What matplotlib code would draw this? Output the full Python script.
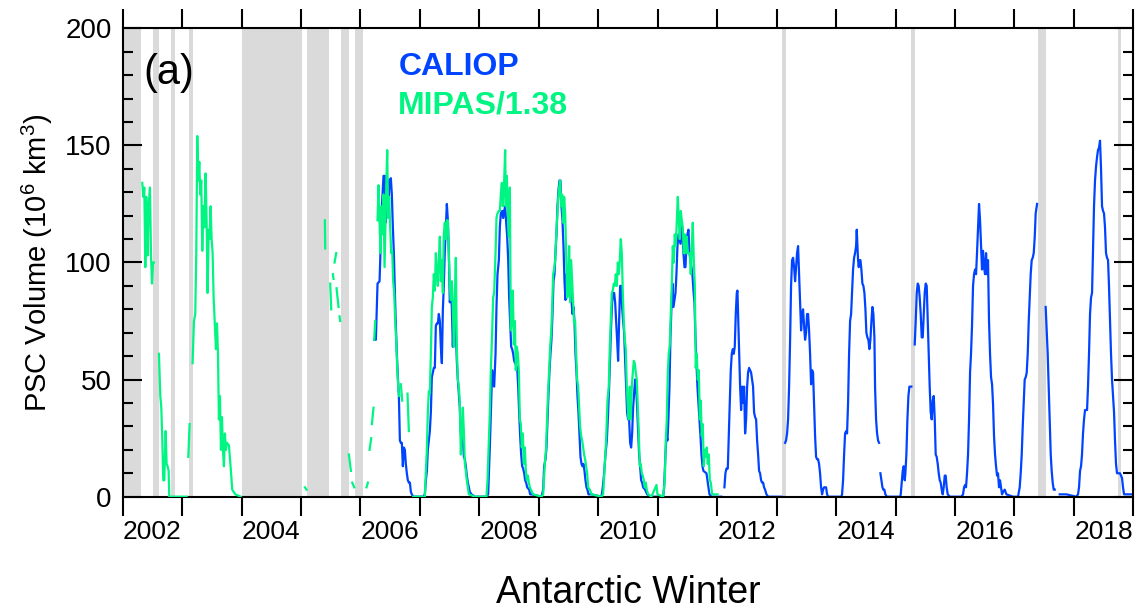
import numpy as np
import matplotlib
matplotlib.use("Agg")
import matplotlib.pyplot as plt
from matplotlib.ticker import FixedLocator, FixedFormatter, NullFormatter, MultipleLocator

plt.rcParams['font.family'] = ['Liberation Sans', 'DejaVu Sans']
plt.rcParams['mathtext.default'] = 'regular'

NAN = np.nan

# ---------------- data (decimal year, PSC volume in 10^6 km^3) ----------------
# periods without data (grey shading): start, end
gap_start = [2002.000, 2002.516, 2002.812, 2003.115, 2004.000, 2005.104, 2005.670, 2005.906,
             2013.098, 2015.267, 2017.403, 2018.743]
gap_end = [2002.302, 2002.616, 2002.879, 2003.188, 2005.020, 2005.469, 2005.811, 2006.046,
           2013.165, 2015.334, 2017.538, 2018.799]

label_years = [2002, 2004, 2006, 2008, 2010, 2012, 2014, 2016, 2018]

# CALIOP
cal06 = [(2006.231,67),(2006.259,67),(2006.287,91),(2006.321,92),(2006.337,105),(2006.354,121),(2006.371,129),
         (2006.388,137),(2006.405,137),(2006.422,117),(2006.438,137),(2006.455,135),(2006.472,124),(2006.489,135),
         (2006.511,136),(2006.528,129),(2006.545,115),(2006.562,104),(2006.579,87),(2006.595,73),(2006.612,61),
         (2006.629,51),(2006.646,43),(2006.663,24),(2006.679,23),(2006.696,23),(2006.713,13),(2006.730,21),
         (2006.747,20),(2006.763,14),(2006.780,10),(2006.797,7),(2006.814,6),(2006.831,6),(2006.848,2),
         (2006.864,1),(2006.887,0)]
cal07 = [(2007.055,0),(2007.083,1),(2007.100,7),(2007.117,11),(2007.133,20),(2007.150,24),(2007.167,28),
         (2007.184,36),(2007.201,51),(2007.217,53),(2007.234,55),(2007.251,55),(2007.268,73),(2007.285,74),
         (2007.302,74),(2007.318,78),(2007.335,75),(2007.352,64),(2007.369,57),(2007.386,80),(2007.402,90),
         (2007.419,105),(2007.436,115),(2007.453,125),(2007.470,118),(2007.486,104),(2007.503,83),(2007.520,87),
         (2007.537,81),(2007.554,64),(2007.571,80),(2007.587,75),(2007.604,71),(2007.621,58),(2007.638,50),
         (2007.655,44),(2007.671,38),(2007.688,27),(2007.705,24),(2007.722,26),(2007.739,17),(2007.756,16),
         (2007.772,13),(2007.789,9),(2007.806,6),(2007.823,4),(2007.840,2),(2007.868,1),(2007.924,0)]
cal08 = [(2008.120,0),(2008.148,1),(2008.176,21),(2008.193,36),(2008.215,54),(2008.232,48),(2008.249,47),
         (2008.272,61),(2008.288,81),(2008.305,95),(2008.328,101),(2008.344,115),(2008.361,121),(2008.384,122),
         (2008.400,119),(2008.417,122),(2008.434,124),(2008.451,117),(2008.468,111),(2008.485,101),(2008.501,85),
         (2008.518,75),(2008.535,64),(2008.552,63),(2008.569,61),(2008.585,58),(2008.602,57),(2008.636,55),
         (2008.653,47),(2008.669,36),(2008.686,26),(2008.703,18),(2008.720,13),(2008.737,12),(2008.754,10),
         (2008.770,7),(2008.787,6),(2008.804,4),(2008.838,3),(2008.854,1),(2008.877,1),(2009.045,0)]
cal09 = [(2009.073,3),(2009.090,13),(2009.112,16),(2009.129,21),(2009.146,33),(2009.163,44),(2009.180,54),
         (2009.196,61),(2009.213,67),(2009.230,78),(2009.247,92),(2009.264,95),(2009.280,104),(2009.297,112),
         (2009.314,124),(2009.331,131),(2009.348,135),(2009.364,135),(2009.381,124),(2009.398,118),(2009.415,107),
         (2009.432,92),(2009.449,84),(2009.465,95),(2009.482,87),(2009.499,90),(2009.516,95),(2009.533,90),
         (2009.549,84),(2009.566,78),(2009.583,81),(2009.600,75),(2009.617,61),(2009.634,53),(2009.650,43),
         (2009.667,36),(2009.684,26),(2009.701,17),(2009.718,14),(2009.734,13),(2009.751,14),(2009.768,11),
         (2009.785,7),(2009.802,4),(2009.818,3),(2009.835,1),(2009.886,1),(2010.054,0)]
cal10 = [(2010.076,4),(2010.099,10),(2010.121,18),(2010.144,24),(2010.166,36),(2010.183,47),(2010.200,61),
         (2010.216,73),(2010.233,83),(2010.250,87),(2010.267,87),(2010.284,83),(2010.301,75),(2010.317,67),
         (2010.334,58),(2010.351,75),(2010.368,90),(2010.385,90),(2010.401,81),(2010.418,75),(2010.435,70),
         (2010.452,58),(2010.469,47),(2010.485,36),(2010.502,33),(2010.519,33),(2010.536,23),(2010.553,21),
         (2010.570,27),(2010.586,38),(2010.603,44),(2010.620,50),(2010.637,47),(2010.654,38),(2010.670,28),
         (2010.687,18),(2010.704,13),(2010.721,7),(2010.738,6),(2010.755,4),(2010.788,3),(2010.822,1),
         (2010.895,0),(2010.951,0)]
cal11 = [(2011.091,0),(2011.108,4),(2011.130,18),(2011.147,26),(2011.164,24),(2011.181,34),(2011.198,47),
         (2011.214,68),(2011.231,81),(2011.248,91),(2011.265,81),(2011.282,84),(2011.299,87),(2011.315,95),
         (2011.332,107),(2011.349,112),(2011.366,110),(2011.383,108),(2011.399,117),(2011.416,112),(2011.433,104),
         (2011.450,98),(2011.467,98),(2011.483,107),(2011.500,112),(2011.517,114),(2011.534,104),(2011.551,101),
         (2011.568,98),(2011.584,95),(2011.601,88),(2011.618,83),(2011.635,68),(2011.652,57),(2011.668,47),
         (2011.685,40),(2011.702,33),(2011.719,26),(2011.736,18),(2011.753,13),(2011.769,11),(2011.820,10),
         (2011.837,7),(2011.853,4),(2011.870,1),(2011.904,0),(2012.072,0),(NAN,NAN)]
cal12 = [(2012.122,4),(2012.139,10),(2012.156,12),(2012.179,12),(2012.195,26),(2012.212,40),(2012.229,54),
         (2012.246,61),(2012.263,63),(2012.279,61),(2012.296,64),(2012.313,78),(2012.330,87),(2012.341,88),
         (2012.352,78),(2012.369,61),(2012.386,47),(2012.403,37),(2012.420,47),(2012.436,40),(2012.453,47),
         (2012.470,27),(2012.487,33),(2012.504,47),(2012.520,53),(2012.537,55),(2012.554,54),(2012.571,53),
         (2012.588,50),(2012.604,47),(2012.621,36),(2012.638,34),(2012.655,33),(2012.672,24),(2012.689,18),
         (2012.705,11),(2012.722,10),(2012.739,7),(2012.756,6),(2012.773,6),(2012.789,4),(2012.806,3),
         (2012.829,1),(2012.857,0),(2013.081,0),(NAN,NAN)]
cal13 = [(2013.143,23),(2013.159,24),(2013.176,27),(2013.193,33),(2013.210,47),(2013.227,67),(2013.243,90),
         (2013.260,101),(2013.277,102),(2013.294,98),(2013.311,92),(2013.328,98),(2013.344,104),(2013.361,107),
         (2013.378,95),(2013.395,84),(2013.412,71),(2013.428,78),(2013.445,80),(2013.462,73),(2013.479,67),
         (2013.496,70),(2013.512,78),(2013.529,78),(2013.546,71),(2013.563,61),(2013.580,48),(2013.597,54),
         (2013.613,53),(2013.630,40),(2013.647,26),(2013.664,17),(2013.681,16),(2013.697,16),(2013.714,14),
         (2013.731,10),(2013.748,4),(2013.765,1),(2013.782,3),(2013.798,4),(2013.815,4),(2013.832,4),
         (2013.849,1),(2013.866,0),(2014.090,0)]
cal14 = [(2014.101,1),(2014.118,7),(2014.135,18),(2014.152,27),(2014.169,28),(2014.185,27),(2014.202,40),
         (2014.219,61),(2014.236,75),(2014.253,78),(2014.269,87),(2014.286,97),(2014.303,102),(2014.320,104),
         (2014.337,107),(2014.348,114),(2014.359,107),(2014.370,101),(2014.382,98),(2014.393,101),(2014.410,101),
         (2014.426,97),(2014.443,91),(2014.460,90),(2014.477,87),(2014.494,80),(2014.510,70),(2014.527,68),
         (2014.544,67),(2014.561,63),(2014.578,67),(2014.595,75),(2014.611,81),(2014.628,78),(2014.645,68),
         (2014.656,47),(2014.673,33),(2014.690,27),(2014.707,24),(2014.723,23),(NAN,NAN),(2014.746,10),
         (2014.763,7),(2014.780,4),(2014.796,3),(2014.813,3),(2014.830,1),(2014.852,0),(2015.080,0)]
cal15 = [(2015.088,1),(2015.105,6),(2015.121,11),(2015.138,13),(2015.155,7),(2015.166,10),(2015.183,18),
         (2015.200,33),(2015.217,43),(2015.234,47),(2015.267,47),(NAN,NAN),(2015.323,65),(2015.340,75),
         (2015.357,87),(2015.374,91),(2015.390,90),(2015.407,85),(2015.424,78),(2015.441,68),(2015.458,68),
         (2015.475,78),(2015.491,87),(2015.508,91),(2015.525,90),(2015.542,75),(2015.559,61),(2015.575,47),
         (2015.592,36),(2015.609,33),(2015.626,41),(2015.643,43),(2015.660,33),(2015.676,18),(2015.693,17),
         (2015.710,14),(2015.727,10),(2015.744,7),(2015.760,6),(2015.777,3),(2015.794,1),(2015.811,4),
         (2015.828,9),(2015.844,9),(2015.861,4),(2015.878,1),(2015.912,0),(2016.108,0)]
cal16 = [(2016.136,1),(2016.153,4),(2016.170,5),(2016.186,4),(2016.203,10),(2016.220,18),(2016.237,33),
         (2016.254,53),(2016.270,61),(2016.287,73),(2016.304,90),(2016.321,95),(2016.338,97),(2016.355,95),
         (2016.371,104),(2016.388,115),(2016.405,125),(2016.422,118),(2016.439,107),(2016.455,97),(2016.472,105),
         (2016.489,98),(2016.506,95),(2016.523,104),(2016.539,95),(2016.556,101),(2016.573,75),(2016.590,61),
         (2016.607,51),(2016.624,48),(2016.640,40),(2016.657,26),(2016.674,18),(2016.691,13),(2016.708,9),
         (2016.724,10),(2016.741,4),(2016.758,7),(2016.775,4),(2016.792,1),(2016.809,2),(2016.837,3),
         (2016.865,1),(2016.977,0),(2017.061,0)]
cal17 = [(2017.089,4),(2017.106,10),(2017.123,18),(2017.140,30),(2017.157,40),(2017.173,50),(2017.190,51),
         (2017.207,53),(2017.224,61),(2017.241,75),(2017.257,85),(2017.274,95),(2017.291,101),(2017.308,102),
         (2017.325,104),(2017.342,111),(2017.358,121),(2017.381,125),(NAN,NAN),(2017.526,81),(2017.543,71),
         (2017.560,61),(2017.577,47),(2017.594,33),(2017.611,18),(2017.627,11),(2017.644,6),(2017.661,3),
         (2017.678,3),(NAN,NAN),(2017.762,1),(2017.818,1),(2017.846,1),(2017.874,1),(2018.042,0)]
cal18 = [(2018.070,1),(2018.087,4),(2018.104,11),(2018.121,13),(2018.137,18),(2018.154,27),(2018.171,33),
         (2018.188,37),(2018.222,37),(2018.238,47),(2018.255,61),(2018.272,78),(2018.289,85),(2018.306,87),
         (2018.322,104),(2018.339,124),(2018.356,135),(2018.373,141),(2018.390,145),(2018.406,148),(2018.423,149),
         (2018.440,152),(2018.457,140),(2018.474,124),(2018.491,122),(2018.507,121),(2018.524,115),(2018.541,104),
         (2018.558,102),(2018.575,101),(2018.591,90),(2018.608,75),(2018.625,61),(2018.642,50),(2018.659,43),
         (2018.676,36),(2018.692,24),(2018.709,14),(2018.726,10),(2018.776,10),(2018.793,9),(2018.810,8),
         (2018.827,4),(2018.844,1),(2018.911,1),(2018.939,1),(2018.995,1)]

# MIPAS (scaled by 1/1.38)
mip02 = [(2002.330,134),(2002.347,128),(2002.364,132),(2002.381,98),(2002.397,128),(2002.420,103),(2002.437,124),
         (2002.459,132),(2002.476,104),(2002.493,91),(2002.510,100),(2002.526,100),(NAN,NAN),(2002.610,61),
         (2002.633,43),(2002.650,38),(2002.667,24),(2002.683,7),(2002.700,7),(2002.723,28),(2002.739,14),
         (2002.756,13),(2002.773,11),(2002.784,0),(2003.076,0),(NAN,NAN),(2003.104,17),(2003.126,31),(NAN,NAN)]
mip03 = [(2003.176,57),(2003.199,75),(2003.221,78),(2003.238,104),(2003.255,154),(2003.272,135),(2003.289,143),
         (2003.305,129),(2003.322,135),(2003.339,105),(2003.356,124),(2003.373,115),(2003.395,138),(2003.412,118),
         (2003.429,87),(2003.446,114),(2003.462,110),(2003.479,124),(2003.496,110),(2003.513,104),(2003.530,85),
         (2003.552,73),(2003.569,63),(2003.586,74),(2003.603,61),(2003.619,33),(2003.636,43),(2003.653,20),
         (2003.670,34),(2003.687,20),(2003.703,13),(2003.720,27),(2003.737,20),(2003.754,23),(2003.787,22),
         (2003.821,11),(2003.843,3),(2003.894,1),(2003.984,0),(NAN,NAN)]
mip05 = [(2005.065,4),(2005.093,3),(NAN,NAN),(2005.401,118),(2005.407,106),(NAN,NAN),(2005.491,91),(2005.508,80),
         (NAN,NAN),(2005.536,95),(2005.547,93),(NAN,NAN),(2005.564,100),(2005.592,104),(NAN,NAN),(2005.598,89),
         (2005.631,81),(NAN,NAN),(2005.648,77),(2005.659,75),(NAN,NAN),(2005.805,18),(2005.839,11),(NAN,NAN),
         (2005.861,6),(2005.895,4),(NAN,NAN),(2006.102,4),(2006.125,6),(NAN,NAN),(2006.153,20),(2006.181,25),
         (NAN,NAN),(2006.192,31),(2006.220,38),(NAN,NAN),(2006.231,67),(2006.248,75),(NAN,NAN)]
mip06 = [(2006.287,118),(2006.304,133),(2006.321,117),(2006.337,104),(2006.354,124),(2006.371,112),(2006.388,129),
         (2006.405,98),(2006.422,118),(2006.438,137),(2006.450,148),(2006.466,119),(2006.483,128),(2006.500,115),
         (2006.517,104),(2006.534,105),(2006.550,92),(2006.567,87),(2006.584,75),(2006.601,67),(2006.618,55),
         (2006.635,47),(2006.651,43),(NAN,NAN),(2006.679,48),(2006.702,41),(NAN,NAN),(2006.791,44),(2006.814,28),
         (NAN,NAN),(2006.887,0)]
mip07 = [(2007.055,0),(2007.083,0),(2007.100,11),(2007.117,20),(2007.133,36),(2007.150,45),(2007.167,44),
         (2007.184,61),(2007.201,81),(2007.217,85),(2007.234,95),(2007.251,88),(2007.268,104),(2007.285,95),
         (2007.302,90),(2007.318,101),(2007.335,111),(2007.352,92),(2007.369,101),(2007.386,87),(2007.402,112),
         (2007.419,117),(2007.436,110),(2007.453,118),(2007.470,118),(2007.486,104),(2007.503,90),(2007.520,84),
         (2007.537,92),(2007.554,81),(2007.571,64),(2007.587,84),(2007.604,102),(2007.621,63),(2007.638,50),
         (2007.655,47),(2007.671,40),(2007.688,18),(2007.705,26),(2007.722,38),(2007.739,28),(2007.756,14),
         (2007.772,11),(2007.789,7),(2007.806,4),(2007.823,1),(2007.924,0)]
mip08 = [(2008.120,0),(2008.137,7),(2008.159,23),(2008.176,36),(2008.193,54),(2008.215,70),(2008.232,85),
         (2008.249,87),(2008.272,104),(2008.288,119),(2008.305,121),(2008.328,122),(2008.344,122),(2008.361,129),
         (2008.378,134),(2008.395,124),(2008.412,131),(2008.434,148),(2008.445,124),(2008.462,137),(2008.479,122),
         (2008.496,111),(2008.513,132),(2008.529,71),(2008.546,75),(2008.563,88),(2008.580,65),(2008.597,75),
         (2008.613,54),(2008.630,64),(2008.647,61),(2008.664,54),(2008.681,33),(2008.697,31),(2008.714,21),
         (2008.731,27),(2008.748,14),(2008.765,21),(2008.782,11),(2008.798,7),(2008.815,9),(2008.832,6),
         (2008.849,4),(2008.866,3),(2008.905,1),(2009.045,0)]
mip09 = [(2009.073,1),(2009.101,14),(2009.123,21),(2009.140,34),(2009.157,45),(2009.174,54),(2009.191,64),
         (2009.208,70),(2009.224,80),(2009.241,95),(2009.258,97),(2009.275,101),(2009.292,111),(2009.308,119),
         (2009.325,127),(2009.342,132),(2009.359,135),(2009.376,124),(2009.393,129),(2009.409,117),(2009.426,128),
         (2009.443,121),(2009.460,104),(2009.477,85),(2009.493,87),(2009.510,107),(2009.527,83),(2009.544,101),
         (2009.561,92),(2009.577,83),(2009.594,74),(2009.611,75),(2009.628,61),(2009.645,50),(2009.662,47),
         (2009.678,38),(2009.695,30),(2009.712,26),(2009.729,24),(2009.746,21),(2009.762,18),(2009.779,16),
         (2009.796,13),(2009.813,10),(2009.830,4),(2009.858,3),(2009.886,1),(2010.054,0)]
mip10 = [(2010.082,1),(2010.110,14),(2010.132,24),(2010.155,41),(2010.177,47),(2010.194,64),(2010.211,75),
         (2010.228,87),(2010.244,88),(2010.261,91),(2010.278,90),(2010.295,95),(2010.312,90),(2010.329,100),
         (2010.345,95),(2010.362,101),(2010.379,110),(2010.396,104),(2010.413,87),(2010.429,75),(2010.446,67),
         (2010.463,63),(2010.480,47),(2010.497,38),(2010.513,33),(2010.530,47),(2010.547,33),(2010.564,47),
         (2010.581,53),(2010.598,58),(2010.614,57),(2010.631,53),(2010.648,50),(2010.665,38),(2010.682,27),
         (2010.698,13),(2010.715,14),(2010.732,10),(2010.749,9),(2010.766,7),(2010.783,4),(2010.799,6),
         (2010.816,3),(2010.839,1),(2010.895,0),(2010.979,5),(2010.996,1),(2011.091,0)]
mip11 = [(2011.119,7),(2011.136,24),(2011.153,33),(2011.170,53),(2011.186,61),(2011.203,65),(2011.220,78),
         (2011.237,91),(2011.254,107),(2011.270,100),(2011.287,112),(2011.304,107),(2011.321,118),(2011.338,128),
         (2011.355,118),(2011.371,110),(2011.388,122),(2011.405,118),(2011.422,115),(2011.439,104),(2011.455,112),
         (2011.472,104),(2011.489,111),(2011.506,104),(2011.540,104),(2011.556,95),(2011.573,107),(2011.590,117),
         (2011.607,101),(2011.624,90),(2011.640,55),(2011.657,61),(2011.674,50),(2011.691,54),(2011.708,33),
         (2011.724,41),(2011.741,26),(2011.758,31),(2011.775,13),(2011.792,20),(2011.809,17),(2011.825,21),
         (2011.842,14),(2011.859,18),(2011.876,7),(2011.893,6),(2011.915,1),(2012.005,1)]

caliop_winters = [cal06, cal07, cal08, cal09, cal10, cal11, cal12, cal13, cal14, cal15, cal16, cal17, cal18]
mipas_winters = [mip02, mip03, mip05, mip06, mip07, mip08, mip09, mip10, mip11]

BLUE = '#0044ff'
GREEN = '#00f582'
GREY = '#dadada'


def join(winters):
    pts = [p for w in winters for p in w]
    t = np.array([p[0] for p in pts], dtype=float)
    v = np.array([p[1] for p in pts], dtype=float)
    return t, v


fig = plt.figure(figsize=(11.39, 6.11), dpi=100)
ax = fig.add_axes([0.1077, 0.1871, 0.8873, 0.7666])

for s, e in zip(gap_start, gap_end):
    ax.axvspan(s, e, color=GREY, lw=0, zorder=0)

ct, cv = join(caliop_winters)
mt, mv = join(mipas_winters)
ax.plot(ct, cv, color=BLUE, lw=1.6, zorder=2, solid_joinstyle='round')
ax.plot(mt, mv, color=GREEN, lw=1.6, zorder=3, solid_joinstyle='round')

ax.set_xlim(2002, 2019)
ax.set_ylim(0, 200)

ax.xaxis.set_major_locator(FixedLocator(list(range(2002, 2020))))
ax.xaxis.set_major_formatter(NullFormatter())
ax.xaxis.set_minor_locator(FixedLocator([y + 0.5 for y in label_years]))
ax.xaxis.set_minor_formatter(FixedFormatter([str(y) for y in label_years]))
ax.tick_params(axis='x', which='major', direction='out', length=14, width=1.5,
               top=True, bottom=True, labelbottom=False)
ax.tick_params(axis='x', which='minor', length=0, labelsize=19, pad=17, top=False)

ax.yaxis.set_major_locator(MultipleLocator(50))
ax.yaxis.set_minor_locator(MultipleLocator(10))
ax.tick_params(axis='y', which='major', direction='in', length=14, width=1.5,
               left=True, right=True, labelsize=20, pad=8)
ax.tick_params(axis='y', which='minor', direction='in', length=7, width=1.5,
               left=True, right=True)

for sp in ax.spines.values():
    sp.set_linewidth(1.5)

fig.text(0.5513, 0.013, 'Antarctic Winter', fontsize=27, ha='center', va='baseline')
ax.set_ylabel('PSC Volume (10$^{6}$ km$^{3}$)', fontsize=21, labelpad=7)

ax.text(0.0204, 0.881, '(a)', transform=ax.transAxes, fontsize=30, ha='left', va='baseline')
ax.text(0.2727, 0.9003, 'CALIOP', transform=ax.transAxes, fontsize=23, fontweight='bold',
        color=BLUE, ha='left', va='baseline')
ax.text(0.2727, 0.8185, 'MIPAS/1.38', transform=ax.transAxes, fontsize=23, fontweight='bold',
        color=GREEN, ha='left', va='baseline')

fig.savefig('out.png', dpi=100)
